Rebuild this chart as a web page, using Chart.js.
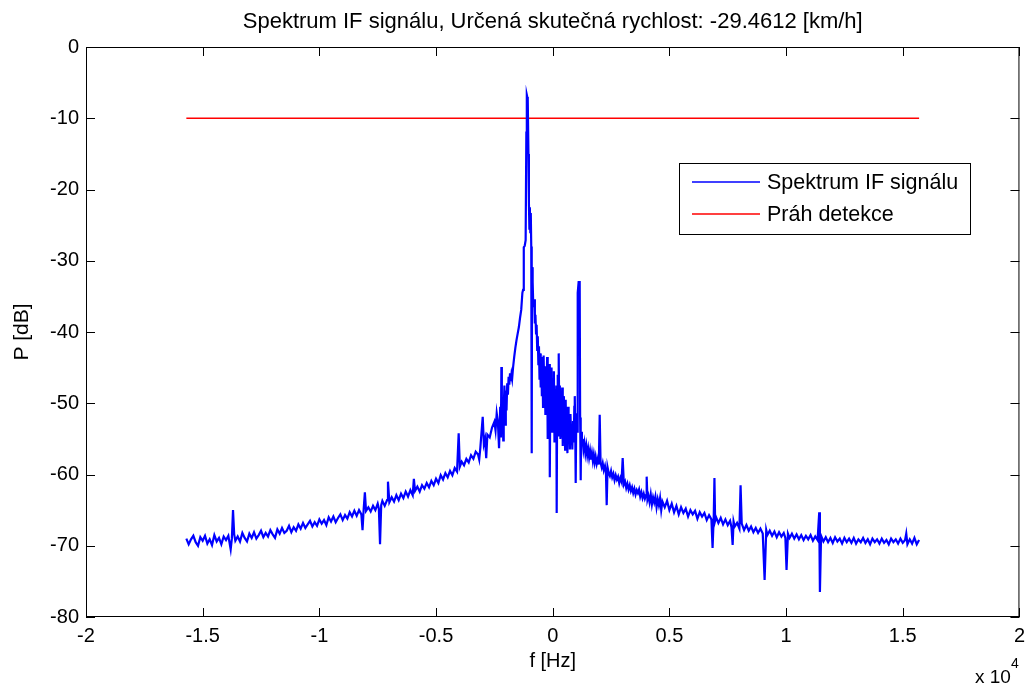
<!DOCTYPE html>
<html>
<head>
<meta charset="utf-8">
<script src="https://cdn.jsdelivr.net/npm/chart.js@4.4.1/dist/chart.umd.min.js"></script>
<style>
  html, body { margin: 0; padding: 0; background: #fff; }
</style>
</head>
<body>
<canvas id="spectrumChart" width="1032" height="685"></canvas>
<script>
const chartTitle = 'Spektrum IF signálu, Určená skutečná rychlost: -29.4612 [km/h]';
const seriesLabels = ['Spektrum IF signálu', 'Práh detekce'];
const xAxisLabel = 'f [Hz]';
const yAxisLabel = 'P [dB]';
const xTicksHz = [-20000, -15000, -10000, -5000, 0, 5000, 10000, 15000, 20000];
const yTicksDb = [0, -10, -20, -30, -40, -50, -60, -70, -80];

// [frequency Hz, power dB]
const leftTail = [
  [-15700,-69.0],[-15600,-69.8],[-15500,-69.1],[-15400,-68.6],[-15300,-69.5],
  [-15200,-70.0],[-15100,-68.8],[-15000,-69.3],[-14900,-68.6],[-14800,-69.7],
  [-14700,-69.1],[-14600,-69.9],[-14500,-68.5],[-14400,-69.4],[-14300,-68.9],
  [-14200,-69.8],[-14100,-68.7],[-14000,-69.2],[-13900,-68.6],[-13800,-70.5],
  [-13750,-69.0],[-13700,-65.0],[-13650,-68.4],[-13600,-69.3],[-13500,-68.7],
  [-13400,-69.4],[-13300,-68.2],[-13200,-68.9],[-13100,-69.4],[-13000,-68.3],
  [-12900,-68.9],[-12800,-68.1],[-12700,-69.0],[-12600,-68.5],[-12500,-67.9],
  [-12400,-68.8],[-12300,-68.2],[-12200,-68.7],[-12100,-67.8],[-12000,-68.4],
  [-11900,-68.9],[-11800,-67.7],[-11700,-68.3],[-11600,-67.5],[-11500,-68.2],
  [-11400,-67.9],[-11300,-67.2],[-11200,-68.1],[-11100,-67.4],[-11000,-67.9],
  [-10900,-67.0],[-10800,-67.6],[-10700,-66.8],[-10600,-67.5],[-10500,-67.0],
  [-10400,-66.5],[-10300,-67.3],[-10200,-66.7],[-10100,-67.2],[-10000,-66.3],
  [-9900,-66.9],[-9800,-66.4],[-9700,-67.1],[-9600,-66.0],[-9500,-66.6],
  [-9400,-65.9],[-9300,-66.7],[-9200,-66.1],[-9100,-65.6],[-9000,-66.4],
  [-8900,-65.7],[-8800,-66.2],[-8700,-65.3],[-8600,-65.9],[-8500,-65.1],
  [-8400,-65.8],[-8300,-65.0],[-8200,-65.6],[-8150,-67.8],[-8100,-64.8],
  [-8050,-62.5],[-8000,-65.1],[-7900,-64.6],[-7800,-65.2],[-7700,-64.4],
  [-7600,-65.0],[-7500,-64.1],[-7450,-64.8],[-7400,-69.8],[-7350,-64.3],
  [-7300,-63.7],[-7200,-64.4],[-7100,-63.6],[-7060,-61.0],[-7000,-63.9],
  [-6900,-63.2],[-6800,-63.8],[-6700,-62.9],[-6600,-63.6],[-6500,-62.7],
  [-6400,-63.3],[-6300,-62.4],[-6200,-63.1],[-6100,-62.2],[-6000,-62.9],
  [-5950,-60.6],[-5900,-62.3],[-5800,-61.7],[-5700,-62.4],[-5600,-61.5],
  [-5500,-62.0],[-5400,-61.2],[-5300,-61.8],[-5200,-60.9],[-5100,-61.5],
  [-5000,-60.6],[-4900,-61.2],[-4800,-60.1],[-4700,-60.7],[-4600,-59.8],
  [-4500,-60.4],[-4400,-59.5],[-4300,-60.1],[-4200,-59.1],[-4100,-59.6],
  [-4030,-54.2],[-3980,-58.9],[-3900,-58.2],[-3800,-58.7],[-3700,-57.8],
  [-3600,-58.3],[-3500,-57.3],[-3400,-57.8],[-3300,-56.8],[-3200,-57.2],
  [-3150,-57.9],[-3100,-56.2],[-3000,-51.9],[-2950,-55.7],[-2900,-55.0],
  [-2850,-57.7],[-2800,-54.4],[-2700,-54.8],[-2600,-53.4],[-2500,-52.6],
  [-2450,-53.8],[-2400,-51.4],[-2350,-52.6],[-2300,-56.3]
];

const centerPeak = [
  [-2250,-50.5],[-2220,-54.8],[-2200,-44.9],[-2180,-52.5],[-2150,-49.5],
  [-2120,-55.2],[-2100,-50.8],[-2070,-47.5],[-2040,-53.0],[-2010,-48.2],
  [-1980,-51.0],[-1950,-47.2],[-1920,-48.8],[-1890,-46.3],[-1860,-47.4],
  [-1830,-45.8],[-1800,-46.9],[-1770,-46.0],[-1740,-46.6],[-1700,-45.0],
  [-1650,-43.5],[-1600,-42.2],[-1550,-41.1],[-1500,-40.2],[-1450,-39.3],
  [-1400,-38.0],[-1350,-36.9],[-1300,-34.5],[-1270,-34.1],[-1240,-28.1],
  [-1200,-27.9],[-1160,-27.1],[-1130,-12.0],[-1110,-6.7],[-1090,-7.0],
  [-1070,-7.4],[-1040,-15.0],[-1020,-21.9],[-1000,-25.5],[-980,-22.5],
  [-960,-26.0],[-940,-23.3],[-920,-28.0],[-900,-57.0],[-885,-30.9],
  [-860,-33.0],[-840,-35.5],[-815,-36.5],[-790,-35.4],[-765,-38.8],
  [-740,-37.6],[-715,-40.2],[-690,-39.0],[-665,-42.5],[-640,-40.6],
  [-615,-44.5],[-590,-42.0],[-565,-46.7],[-540,-43.0],[-515,-47.8],
  [-490,-43.5],[-465,-49.0],[-440,-44.2],[-415,-50.5],[-390,-43.3],
  [-365,-48.0],[-340,-45.0],[-315,-51.5],[-290,-44.8],[-265,-49.6],
  [-240,-43.5],[-215,-55.0],[-190,-46.0],[-165,-52.0],[-140,-44.5],
  [-125,-60.4],[-100,-47.0],[-75,-52.8],[-50,-45.0],[-25,-54.0],
  [0,-46.5],[25,-51.5],[50,-45.5],[75,-55.5],[100,-48.0],
  [130,-53.0],[155,-47.5],[170,-65.4],[190,-50.0],[215,-46.0],
  [240,-54.5],[257,-43.0],[280,-52.0],[305,-47.5],[330,-55.0],
  [355,-48.5],[380,-54.0],[405,-47.8],[430,-56.0],[455,-49.0],
  [480,-54.5],[505,-50.5],[530,-56.5],[555,-49.5],[580,-55.0],
  [605,-51.0],[630,-57.0],[655,-50.5],[680,-55.5],[705,-52.0],
  [735,-56.5],[760,-51.5],[790,-55.0],[814,-53.8],[840,-56.5],
  [870,-52.5],[900,-55.5],[925,-50.5],[945,-49.0],[965,-54.0],
  [985,-61.2],[1005,-53.5],[1030,-51.4],[1050,-54.0],[1071,-34.5],
  [1110,-33.0],[1156,-33.0],[1175,-52.0],[1199,-60.8],[1220,-54.0],
  [1250,-56.0],[1285,-55.0],[1320,-56.5],[1360,-55.6],[1400,-57.0],
  [1440,-56.0],[1480,-57.3],[1520,-56.4],[1560,-57.6],[1600,-56.7],
  [1640,-57.9],[1680,-57.0],[1720,-58.1],[1760,-57.2],[1800,-58.3],
  [1840,-57.5],[1885,-58.5],[1930,-57.8],[1975,-58.6],[2013,-51.6],
  [2050,-58.3],[2100,-59.0],[2142,-58.4],[2190,-59.4],[2240,-58.8],
  [2280,-59.6],[2313,-64.3],[2350,-59.0],[2400,-59.8]
];

const rightTail = [
  [2450,-60.2],[2500,-59.5],[2550,-60.4],[2600,-59.9],[2650,-60.8],
  [2700,-60.1],[2750,-60.7],[2800,-60.3],[2850,-61.2],[2900,-60.5],
  [2950,-61.0],[2998,-57.7],[3050,-61.4],[3100,-61.0],[3150,-61.9],
  [3200,-61.3],[3250,-62.1],[3300,-61.5],[3350,-62.3],[3400,-61.8],
  [3450,-62.6],[3500,-62.0],[3550,-62.8],[3600,-62.2],[3650,-62.6],
  [3700,-62.1],[3750,-63.1],[3800,-62.5],[3850,-63.3],[3900,-62.7],
  [3950,-63.4],[4000,-62.9],[4026,-60.3],[4060,-63.5],[4100,-63.0],
  [4150,-63.9],[4200,-62.8],[4250,-64.2],[4300,-63.2],[4350,-63.9],
  [4400,-63.1],[4450,-64.6],[4500,-63.5],[4550,-64.3],[4600,-63.3],
  [4650,-65.0],[4700,-63.8],[4800,-64.6],[4900,-63.7],[5000,-65.0],
  [5100,-64.1],[5200,-65.3],[5300,-64.4],[5400,-65.6],[5500,-64.6],
  [5600,-65.4],[5700,-64.8],[5800,-65.9],[5900,-65.0],[6000,-65.6],
  [6100,-65.1],[6200,-66.2],[6300,-65.3],[6400,-65.9],[6500,-65.4],
  [6600,-66.4],[6700,-65.7],[6800,-66.3],[6850,-70.3],[6900,-65.9],
  [6930,-60.5],[6960,-66.5],[7000,-66.0],[7100,-66.8],[7200,-66.1],
  [7300,-67.0],[7400,-66.3],[7500,-67.1],[7600,-66.5],[7660,-67.4],
  [7710,-69.9],[7750,-66.6],[7800,-67.3],[7900,-66.8],[8000,-67.6],
  [8050,-61.5],[8100,-66.9],[8200,-67.8],[8300,-67.1],[8400,-67.9],
  [8500,-67.3],[8600,-68.1],[8700,-67.5],[8800,-68.2],[8900,-67.6],
  [9000,-68.3],[9080,-74.8],[9150,-67.8],[9200,-68.5],[9300,-67.9],
  [9400,-68.6],[9500,-68.0],[9600,-68.8],[9700,-68.1],[9800,-68.7],
  [9900,-68.2],[9970,-68.9],[10020,-73.4],[10080,-68.3],[10150,-68.9],
  [10250,-68.3],[10350,-69.0],[10450,-68.4],[10550,-69.1],[10650,-68.5],
  [10750,-69.2],[10850,-68.6],[10950,-69.1],[11050,-68.5],[11150,-69.3],
  [11250,-68.7],[11350,-69.2],[11420,-65.3],[11450,-76.5],[11500,-68.6],
  [11600,-69.4],[11700,-68.8],[11800,-69.5],[11900,-68.9],[12000,-69.6],
  [12100,-68.8],[12200,-69.4],[12300,-69.0],[12400,-69.7],[12500,-68.9],
  [12600,-69.5],[12700,-69.0],[12800,-69.6],[12900,-68.9],[13000,-69.7],
  [13100,-69.1],[13200,-69.5],[13300,-68.9],[13400,-69.6],[13500,-69.1],
  [13600,-69.8],[13700,-69.0],[13800,-69.5],[13900,-69.1],[14000,-69.7],
  [14100,-69.0],[14200,-69.6],[14300,-69.2],[14400,-69.8],[14500,-69.0],
  [14600,-69.5],[14700,-69.1],[14800,-69.7],[14900,-69.0],[15000,-69.6],
  [15100,-69.2],[15150,-68.3],[15200,-69.8],[15300,-69.1],[15400,-69.7],
  [15500,-68.9],[15600,-69.8],[15700,-69.2]
];

const thresholdLine = [[-15700, -10], [15700, -10]];

const FONT = 'Liberation Sans, Arial, sans-serif';
const BLUE = '#0000ff';
const RED = '#ff0000';

const toPoints = pairs => pairs.map(([f, p]) => ({ x: f, y: p }));

// MATLAB-like box, inward ticks, legend box and the x10^4 exponent
const matlabAxes = {
    id: 'matlabAxes',
    afterDraw(chart) {
        const { ctx, chartArea: a, scales: { x, y } } = chart;
        const tick = 9;
        ctx.save();
        ctx.strokeStyle = '#000';
        ctx.lineWidth = 1;
        ctx.strokeRect(a.left + 0.5, a.top + 0.5, a.width - 1, a.height - 1);

        ctx.beginPath();
        xTicksHz.forEach(v => {
            const px = Math.round(x.getPixelForValue(v)) + 0.5;
            ctx.moveTo(px, a.bottom); ctx.lineTo(px, a.bottom - tick);
            ctx.moveTo(px, a.top); ctx.lineTo(px, a.top + tick);
        });
        yTicksDb.forEach(v => {
            const py = Math.round(y.getPixelForValue(v)) + 0.5;
            ctx.moveTo(a.left, py); ctx.lineTo(a.left + tick, py);
            ctx.moveTo(a.right, py); ctx.lineTo(a.right - tick, py);
        });
        ctx.stroke();

        // legend
        const box = { left: 679.5, top: 163.5, width: 291, height: 71 };
        ctx.fillStyle = '#fff';
        ctx.fillRect(box.left, box.top, box.width, box.height);
        ctx.strokeRect(box.left, box.top, box.width, box.height);
        const rows = [182, 214];
        chart.data.datasets.forEach((ds, i) => {
            ctx.strokeStyle = ds.borderColor;
            ctx.lineWidth = 1.5;
            ctx.beginPath();
            ctx.moveTo(692, rows[i]);
            ctx.lineTo(760, rows[i]);
            ctx.stroke();
            ctx.fillStyle = '#000';
            ctx.font = `21.5px ${FONT}`;
            ctx.textAlign = 'left';
            ctx.textBaseline = 'middle';
            ctx.fillText(ds.label, 767, rows[i] + 1);
        });

        // exponent of the x axis
        ctx.fillStyle = '#000';
        ctx.font = `19px ${FONT}`;
        ctx.textAlign = 'left';
        ctx.textBaseline = 'middle';
        ctx.fillText('x 10', 975, 678);
        ctx.font = `14px ${FONT}`;
        ctx.fillText('4', 1011, 664);
        ctx.restore();
    }
};

new Chart(document.getElementById('spectrumChart'), {
    type: 'scatter',
    data: {
        datasets: [
            {
                label: seriesLabels[0],
                data: toPoints([...leftTail, ...centerPeak, ...rightTail]),
                showLine: true,
                borderColor: BLUE,
                backgroundColor: BLUE,
                borderWidth: 2.2,
                pointRadius: 0,
                tension: 0
            },
            {
                label: seriesLabels[1],
                data: toPoints(thresholdLine),
                showLine: true,
                borderColor: RED,
                backgroundColor: RED,
                borderWidth: 1.5,
                pointRadius: 0,
                tension: 0
            }
        ]
    },
    options: {
        responsive: false,
        animation: false,
        layout: { padding: { left: 0, right: 12, top: 0, bottom: 0 } },
        plugins: {
            legend: { display: false },
            tooltip: { enabled: false },
            title: {
                display: true,
                fullSize: false,
                text: chartTitle,
                color: '#000',
                font: { family: FONT, size: 22, weight: 'normal' },
                padding: { top: 9, bottom: 11.6 }
            }
        },
        scales: {
            x: {
                type: 'linear',
                min: -20000,
                max: 20000,
                afterBuildTicks: scale => { scale.ticks = xTicksHz.map(v => ({ value: v })); },
                afterFit: scale => { scale.height = 68; },
                ticks: {
                    callback: v => String(v / 10000),
                    color: '#000',
                    font: { family: FONT, size: 20 },
                    padding: 7,
                    maxRotation: 0,
                    autoSkip: false
                },
                grid: { display: false, drawTicks: false },
                border: { display: false },
                title: {
                    display: true,
                    text: xAxisLabel,
                    color: '#000',
                    font: { family: FONT, size: 20 },
                    padding: { top: 0, bottom: 12 }
                }
            },
            y: {
                min: -80,
                max: 0,
                afterBuildTicks: scale => { scale.ticks = yTicksDb.map(v => ({ value: v })); },
                afterFit: scale => { scale.width = 86; },
                ticks: {
                    color: '#000',
                    font: { family: FONT, size: 20 },
                    padding: 7,
                    autoSkip: false
                },
                grid: { display: false, drawTicks: false },
                border: { display: false },
                title: {
                    display: true,
                    text: yAxisLabel,
                    color: '#000',
                    font: { family: FONT, size: 21 },
                    padding: { top: 10, bottom: 0 }
                }
            }
        }
    },
    plugins: [matlabAxes]
});
</script>
</body>
</html>
